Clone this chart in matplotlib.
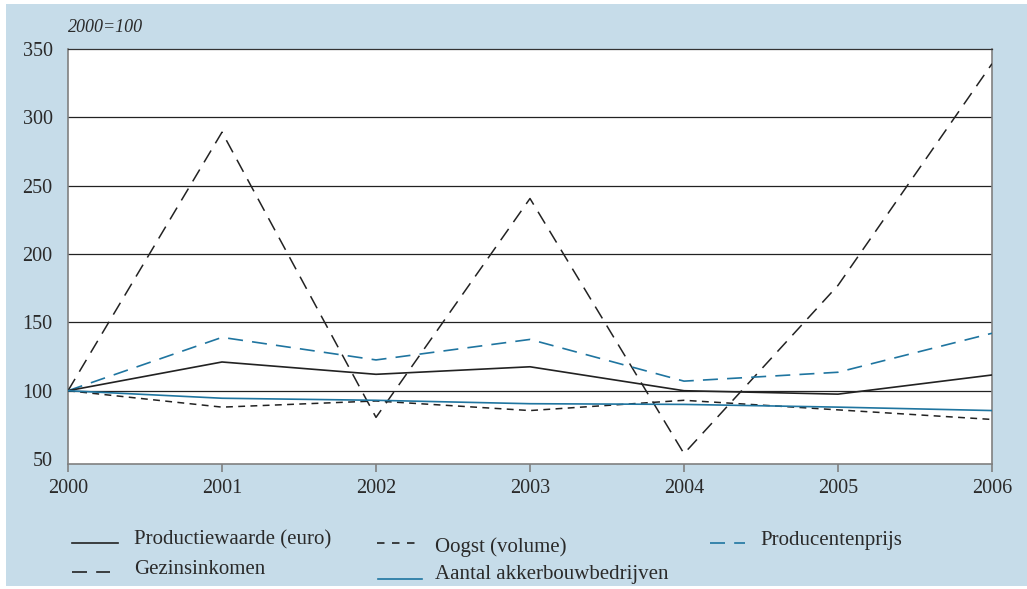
import matplotlib
matplotlib.use("Agg")
import matplotlib.pyplot as plt
from matplotlib.patches import Rectangle
from matplotlib.lines import Line2D

years = [2000, 2001, 2002, 2003, 2004, 2005, 2006]
productiewaarde = [100, 121, 112, 117.5, 100, 97.5, 111.5]
oogst = [100, 88, 92.5, 85.5, 93, 86, 79]
producentenprijs = [100, 139, 122.5, 137.5, 107, 113.5, 142]
gezinsinkomen = [100, 289, 80.5, 240.5, 54, 177, 339]
aantal = [100, 94.5, 93, 90.5, 90, 88, 85.5]
yticks = [50, 100, 150, 200, 250, 300, 350]

W, H = 1027, 589
BG = "#c6dce9"
BLUE = "#1f75a0"
TXT = "#2a2a2a"
FONT = "Liberation Serif"

plt.rcParams['font.family'] = [FONT, 'DejaVu Serif']

fig = plt.figure(figsize=(W / 100, H / 100), dpi=100, facecolor="white")
fig.patches.append(Rectangle((6 / W, 3 / H), 1 - 6 / W, 1 - 7 / H,
                             transform=fig.transFigure, facecolor=BG,
                             edgecolor="none", zorder=-10))

ax = fig.add_axes([68 / W, 1 - 463.5 / H, (992 - 68) / W, (463.5 - 48.7) / H])
ax.set_facecolor("white")
ax.set_xlim(2000, 2006)
ax.set_ylim(46.8, 350)
ax.set_yticks(yticks)
ax.set_xticks(years)
ax.set_xticklabels([str(y) for y in years])
for v in yticks[1:-1]:
    ax.axhline(v, color="#222222", lw=0.9, zorder=1)

ax.plot(years, gezinsinkomen, color="#222222", lw=1.1, dashes=(9, 5.5), zorder=3)
ax.plot(years, producentenprijs, color=BLUE, lw=1.2, dashes=(9, 5.5), zorder=3)
ax.plot(years, productiewaarde, color="#222222", lw=1.2, zorder=3)
ax.plot(years, oogst, color="#222222", lw=1.1, dashes=(4.5, 3.5), zorder=3)
ax.plot(years, aantal, color=BLUE, lw=1.2, zorder=3)

for s in ["left", "bottom", "right"]:
    ax.spines[s].set_color("#808080")
    ax.spines[s].set_linewidth(1.2)
ax.spines["top"].set_color("#333333")
ax.spines["top"].set_linewidth(0.9)
ax.tick_params(axis="y", length=0, pad=11, labelsize=14.5, labelcolor=TXT)
ax.tick_params(axis="x", length=6, width=1.2, color="#808080", direction="out",
               pad=5, labelsize=14.5, labelcolor=TXT)

fig.text(68 / W, 1 - 27 / H, "2000=100", style="italic", fontsize=13,
         color=TXT, va="center", ha="left")

def leg(x0, x1, y, label, tx, ty, color, dashes=None):
    ln = Line2D([x0 / W, x1 / W], [1 - y / H, 1 - y / H], transform=fig.transFigure,
                color=color, lw=1.2)
    if dashes:
        ln.set_dashes(dashes)
    fig.lines.append(ln)
    fig.text(tx / W, 1 - ty / H, label, fontsize=15, color=TXT,
             va="center", ha="left")

leg(72, 118, 542.5, "Productiewaarde (euro)", 134, 540, "#222222")
leg(377, 418, 543, "Oogst (volume)", 435, 547, "#222222", (4.5, 4.5))
leg(710, 745, 543, "Producentenprijs", 760, 540, BLUE, (9, 5.5))
leg(72, 110, 572, "Gezinsinkomen", 134, 570, "#222222", (9, 5.5))
leg(378, 422, 578.5, "Aantal akkerbouwbedrijven", 435, 575, BLUE)

fig.savefig("out.png", dpi=100, facecolor="white")
